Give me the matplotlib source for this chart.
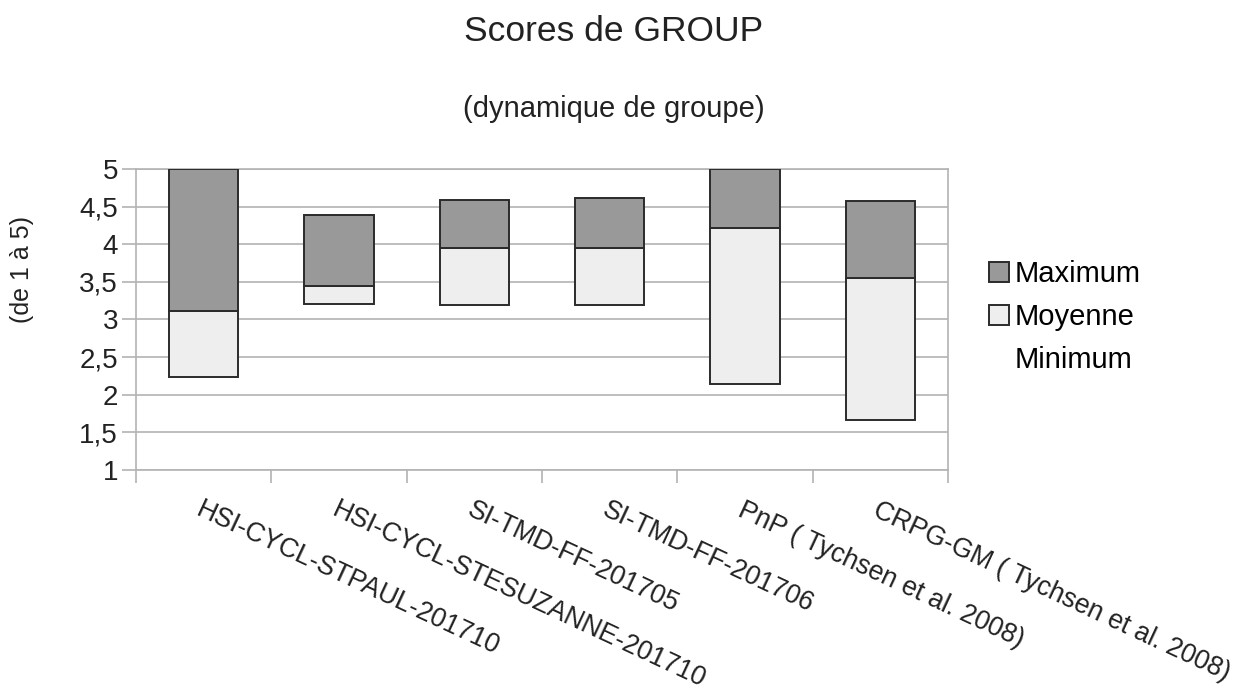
import numpy as np
import matplotlib
matplotlib.use("Agg")
import matplotlib.pyplot as plt
from matplotlib.ticker import FuncFormatter

# scores de groupe par session (echelle 1 a 5)
sessions = ["HSI-CYCL-STPAUL-201710", "HSI-CYCL-STESUZANNE-201710",
            "SI-TMD-FF-201705", "SI-TMD-FF-201706",
            "PnP ( Tychsen et al. 2008)", "CRPG-GM ( Tychsen et al. 2008)"]
minimum = [2.23, 3.21, 3.19, 3.19, 2.14, 1.66]
moyenne = [3.11, 3.45, 3.95, 3.95, 4.22, 3.545]
maximum = [5.0, 4.39, 4.59, 4.62, 5.0, 4.57]

plt.rcParams['font.family'] = ['Liberation Sans', 'DejaVu Sans']

mini = np.array(minimum)
moy = np.array(moyenne)
maxi = np.array(maximum)
x = np.arange(len(sessions))

fig = plt.figure(figsize=(12.5, 6.92), dpi=100)
ax = fig.add_axes([0.1088, 0.3208, 0.6496, 0.435])

grid_c = '#b3b3b3'
edge_c = '#2b2b2b'
w = 0.51

# invisible base, then moyenne and maximum stacked on top
b0 = ax.bar(x, mini, w, color='none', edgecolor='none', label='Minimum')
b1 = ax.bar(x, moy - mini, w, bottom=mini, color='#eeeeee', edgecolor=edge_c,
            linewidth=1.4, label='Moyenne', zorder=3)
b2 = ax.bar(x, maxi - moy, w, bottom=moy, color='#999999', edgecolor=edge_c,
            linewidth=1.4, label='Maximum', zorder=3)

ax.set_ylim(1, 5)
ax.set_xlim(-0.5, len(sessions) - 0.5)
ax.set_yticks(np.arange(1, 5.01, 0.5))
ax.yaxis.set_major_formatter(FuncFormatter(lambda v, p: ('%g' % v).replace('.', ',')))
ax.grid(axis='y', color=grid_c, linewidth=1.2, zorder=0)
ax.set_axisbelow(True)

for s in ax.spines.values():
    s.set_color(grid_c)
    s.set_linewidth(1.2)

ax.tick_params(axis='y', length=10, width=1.2, color=grid_c, pad=3,
               labelsize=20, labelcolor='#222222')
ax.set_xticks(x)
ax.set_xticks(np.arange(-0.5, len(sessions), 1), minor=True)
ax.tick_params(axis='x', which='minor', length=9.5, width=1.2, color=grid_c)
ax.tick_params(axis='x', which='major', length=0, pad=19.5)
ax.set_xticklabels(sessions, rotation=-25, ha='left', va='top',
                   rotation_mode='anchor', fontsize=19.2, color='#222222')

fig.text(0.491, 0.955, "Scores de GROUP", ha='center', va='center',
         fontsize=25.5, color='#222222')
fig.text(0.491, 0.842, "(dynamique de groupe)", ha='center', va='center',
         fontsize=21, color='#222222')
fig.text(0.018, 0.61, "(de 1 à 5)", ha='center', va='center',
         rotation=90, fontsize=18, color='#222222')

fig.legend(handles=[b2, b1, b0], labels=['Maximum', 'Moyenne', 'Minimum'],
           loc='center left', bbox_to_anchor=(0.791, 0.542), frameon=False,
           fontsize=21, handlelength=0.7, handleheight=0.7,
           handletextpad=0.2, labelspacing=0.5, borderpad=0, borderaxespad=0)

fig.savefig("out.png", dpi=100)
